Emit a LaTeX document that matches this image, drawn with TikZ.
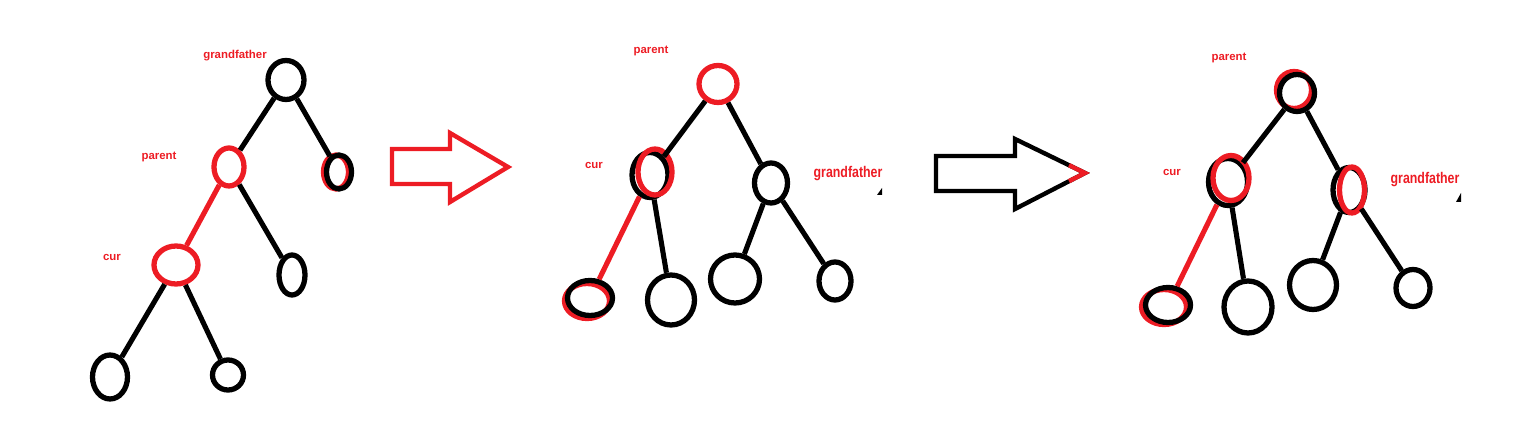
\documentclass[tikz,border=0pt]{standalone}
\usepackage{fontspec}
\setmainfont{Liberation Sans}
\usetikzlibrary{shapes.geometric}

\definecolor{pen}{RGB}{237,28,36}

\tikzset{
  vtx/.style 2 args={ellipse, draw, line width=3pt, inner sep=0pt,
    minimum width=#1*0.02cm, minimum height=#2*0.02cm},
  link/.style={line width=2.9pt},
  tag/.style={text=pen, inner sep=0pt, font=\fontsize{6.5}{7}\selectfont\bfseries},
  bigtag/.style={text=pen, inner sep=0pt, xscale=0.8,
    font=\fontsize{8.8}{9}\selectfont\bfseries},
  blockarrow/.style={line width=2.5pt, line join=miter}
}

\begin{document}
\begin{tikzpicture}[x=0.02cm, y=-0.02cm]
  \useasboundingbox (0,0) rectangle (1523,438);

  % before: cur is the left child of parent
  \node[vtx={36}{39}] (g1) at (286,80) {};
  \node[vtx={30}{38}, pen] (p1) at (229,167) {};
  \node[vtx={25}{34}, pen] at (336,172) {};
  \node[vtx={25}{34}] (u1) at (339,172) {};
  \node[vtx={44}{38}, pen] (c1) at (176,265) {};
  \node[vtx={26}{40}] (r1) at (292,275) {};
  \node[vtx={35}{44}] (a1) at (110,377) {};
  \node[vtx={31}{30}] (b1) at (228,375) {};

  \node[tag] (t1g) at (235,56) {grandfather};
  \node[tag] (t1p) at (159,157) {parent};
  \node[tag] (t1c) at (112,257) {cur};

  \draw[link] (g1) -- (p1);
  \draw[link] (g1) -- (u1);
  \draw[link, pen] (p1) -- (c1);
  \draw[link] (p1) -- (r1);
  \draw[link] (c1) -- (a1);
  \draw[link] (c1) -- (b1);

  \draw[blockarrow, pen] (392,149) -- (450,149) -- (450,133) -- (508,167)
    -- (450,202) -- (450,184) -- (392,184) -- cycle;

  % after the right rotation
  \node[vtx={38}{37}, pen] (p2) at (718,84) {};
  \node[vtx={36}{45}] (c2) at (650,175) {};
  \node[vtx={34}{46}, pen] at (655,172) {};
  \node[vtx={33}{40}] (g2) at (771,183) {};
  \node[vtx={45}{35}, pen] at (587,301) {};
  \node[vtx={45}{35}] (a2) at (590,298) {};
  \node[vtx={47}{50}] (b2) at (671,300) {};
  \node[vtx={49}{48}] (d2) at (735,279) {};
  \node[vtx={32}{38}] (e2) at (835,281) {};

  \node[tag] (t2p) at (651,51) {parent};
  \node[tag] (t2c) at (594,165) {cur};
  \node[bigtag] (t2g) at (848,174) {grandfather};
  \fill (882,188) -- (882,195) -- (877,195) -- cycle;

  \draw[link] (p2) -- (c2);
  \draw[link] (p2) -- (g2);
  \draw[link, pen] (c2) -- (a2);
  \draw[link] (c2) -- (b2);
  \draw[link] (g2) -- (d2);
  \draw[link] (g2) -- (e2);

  \draw[blockarrow] (936,156) -- (1015,156) -- (1015,139) -- (1085,173)
    -- (1015,209) -- (1015,191) -- (936,191) -- cycle;
  \draw[blockarrow, pen] (1069,165.2) -- (1085,173) -- (1069,181.2);

  % after recolouring
  \node[vtx={35}{37}, pen] at (1294,90) {};
  \node[vtx={35}{37}] (p3) at (1297,93) {};
  \node[vtx={39}{47}] (c3) at (1228,182) {};
  \node[vtx={36}{45}, pen] at (1231,178) {};
  \node[vtx={32}{45}] (g3) at (1349,190) {};
  \node[vtx={25}{46}, pen] at (1352,190) {};
  \node[vtx={45}{35}, pen] at (1164,307) {};
  \node[vtx={45}{35}] (a3) at (1168,305) {};
  \node[vtx={48}{52}] (b3) at (1248,307) {};
  \node[vtx={47}{49}] (d3) at (1313,285) {};
  \node[vtx={34}{37}] (e3) at (1413,288) {};

  \node[tag] (t3p) at (1229,58) {parent};
  \node[tag] (t3c) at (1172,172) {cur};
  \node[bigtag] (t3g) at (1425,180) {grandfather};
  \fill (1461,193) -- (1461,202) -- (1456,202) -- cycle;

  \draw[link] (p3) -- (c3);
  \draw[link] (p3) -- (g3);
  \draw[link, pen] (c3) -- (a3);
  \draw[link] (c3) -- (b3);
  \draw[link] (g3) -- (d3);
  \draw[link] (g3) -- (e3);
\end{tikzpicture}
\end{document}
